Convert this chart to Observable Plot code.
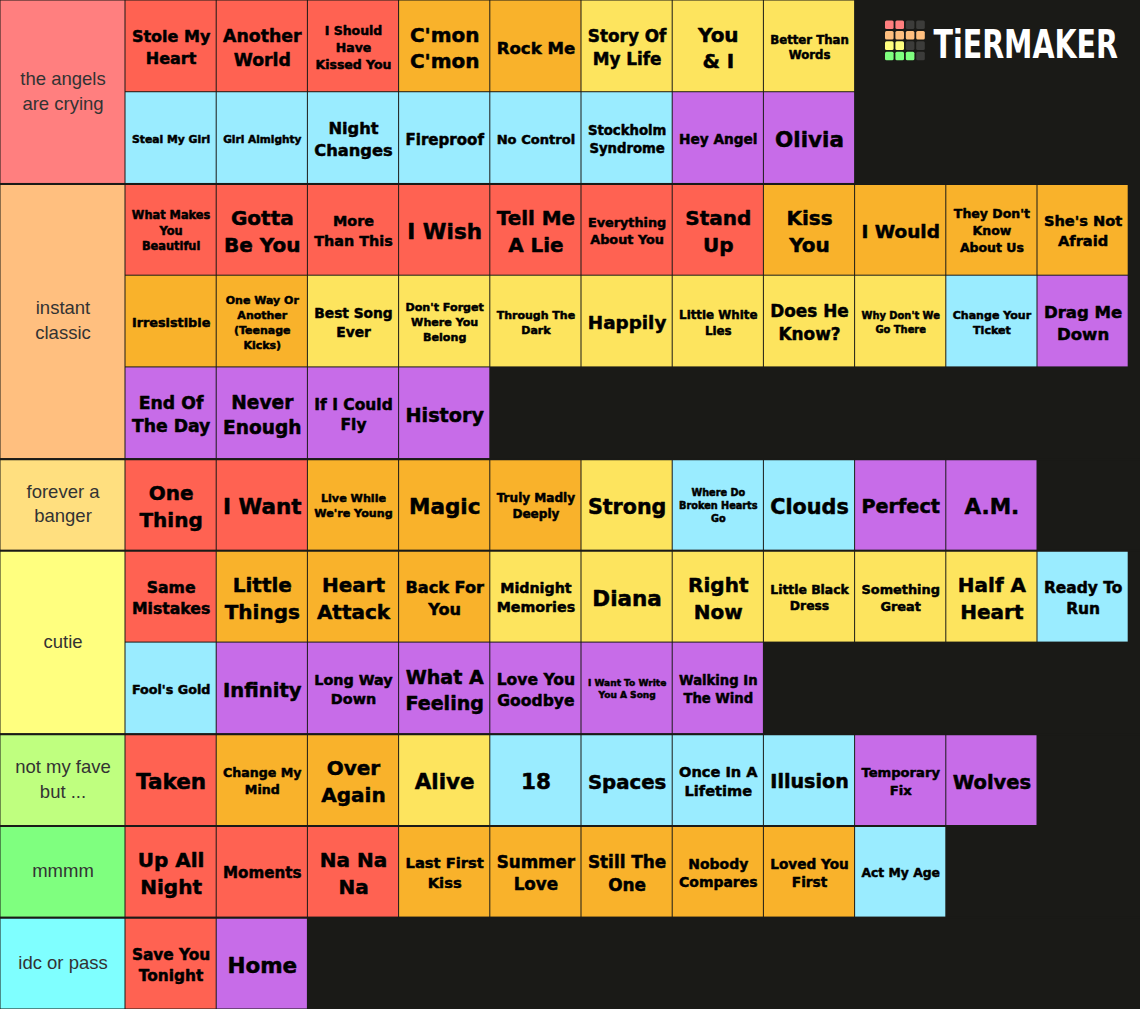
<!DOCTYPE html>
<html>
<head>
<meta charset="utf-8">
<script src="https://cdn.jsdelivr.net/npm/d3@7"></script>
<script src="https://cdn.jsdelivr.net/npm/@observablehq/plot@0.6"></script>
<style>
  html, body { margin: 0; padding: 0; background: #1a1a17; }
  #chart svg { display: block; }
</style>
</head>
<body>
<div id="chart"></div>
<script>
// ---------- DATA ----------
const tierNames = ["the angels are crying", "instant classic", "forever a banger", "cutie", "not my fave but ...", "mmmm", "idc or pass"];
const tierColors = ["#ff7f7f", "#ffbf7f", "#ffdf7f", "#ffff7f", "#bfff7f", "#7fff7f", "#7fffff"];

// album codes -> colour of the song tile
const albumCodes = ["U", "T", "M", "F", "A"];
const albumNames = ["Up All Night", "Take Me Home", "Midnight Memories", "Four", "Made in the A.M."];
const albumColors = ["#ff6252", "#f9b22b", "#fde45e", "#9aecff", "#c76ce8"];

// song tiles per tier: [label as shown (line breaks), album code]
const tier1Songs = [
  ["Stole My\nHeart", "U"], ["Another\nWorld", "U"], ["I Should\nHave\nKissed You", "U"], ["C'mon\nC'mon", "T"],
  ["Rock Me", "T"], ["Story Of\nMy Life", "M"], ["You\n& I", "M"], ["Better Than\nWords", "M"],
  ["Steal My Girl", "F"], ["Girl Almighty", "F"], ["Night\nChanges", "F"], ["Fireproof", "F"],
  ["No Control", "F"], ["Stockholm\nSyndrome", "F"], ["Hey Angel", "A"], ["Olivia", "A"]
];
const tier2Songs = [
  ["What Makes\nYou\nBeautiful", "U"], ["Gotta\nBe You", "U"], ["More\nThan This", "U"], ["I Wish", "U"],
  ["Tell Me\nA Lie", "U"], ["Everything\nAbout You", "U"], ["Stand\nUp", "U"], ["Kiss\nYou", "T"],
  ["I Would", "T"], ["They Don't\nKnow\nAbout Us", "T"], ["She's Not\nAfraid", "T"],
  ["Irresistible", "T"], ["One Way Or\nAnother\n(Teenage\nKicks)", "T"], ["Best Song\nEver", "M"],
  ["Don't Forget\nWhere You\nBelong", "M"], ["Through The\nDark", "M"], ["Happily", "M"], ["Little White\nLies", "M"],
  ["Does He\nKnow?", "M"], ["Why Don't We\nGo There", "M"], ["Change Your\nTicket", "F"], ["Drag Me\nDown", "A"],
  ["End Of\nThe Day", "A"], ["Never\nEnough", "A"], ["If I Could\nFly", "A"], ["History", "A"]
];
const tier3Songs = [
  ["One\nThing", "U"], ["I Want", "U"], ["Live While\nWe're Young", "T"], ["Magic", "T"], ["Truly Madly\nDeeply", "T"],
  ["Strong", "M"], ["Where Do\nBroken Hearts\nGo", "F"], ["Clouds", "F"], ["Perfect", "A"], ["A.M.", "A"]
];
const tier4Songs = [
  ["Same\nMistakes", "U"], ["Little\nThings", "T"], ["Heart\nAttack", "T"], ["Back For\nYou", "T"],
  ["Midnight\nMemories", "M"], ["Diana", "M"], ["Right\nNow", "M"], ["Little Black\nDress", "M"],
  ["Something\nGreat", "M"], ["Half A\nHeart", "M"], ["Ready To\nRun", "F"],
  ["Fool's Gold", "F"], ["Infinity", "A"], ["Long Way\nDown", "A"], ["What A\nFeeling", "A"],
  ["Love You\nGoodbye", "A"], ["I Want To Write\nYou A Song", "A"], ["Walking In\nThe Wind", "A"]
];
const tier5Songs = [
  ["Taken", "U"], ["Change My\nMind", "T"], ["Over\nAgain", "T"], ["Alive", "M"], ["18", "F"],
  ["Spaces", "F"], ["Once In A\nLifetime", "F"], ["Illusion", "F"], ["Temporary\nFix", "A"], ["Wolves", "A"]
];
const tier6Songs = [
  ["Up All\nNight", "U"], ["Moments", "U"], ["Na Na\nNa", "U"], ["Last First\nKiss", "T"], ["Summer\nLove", "T"],
  ["Still The\nOne", "T"], ["Nobody\nCompares", "T"], ["Loved You\nFirst", "T"], ["Act My Age", "F"]
];
const tier7Songs = [["Save You\nTonight", "U"], ["Home", "A"]];

const tierSongs = [tier1Songs, tier2Songs, tier3Songs, tier4Songs, tier5Songs, tier6Songs, tier7Songs];

// logo pattern (4 x 4 squares): r=red, o=orange, y=yellow, g=green, .=dark
const logoPattern = ["rr..", "oooo", "yy..", "ggg."];
const logoColors = { r: "#ff7f7f", o: "#ffbf7f", y: "#ffff7f", g: "#7fff7f", ".": "#3c3c3a" };
const logoText = "TiERMAKER";

// ---------- LAYOUT ----------
const W = 1140, H = 1009;
const COLS = 11, LOGO_COLS = 3;
const LABEL_PX = 125, CELL_PX = 91.2;
const TOTAL_ROWS = 11;
const ITEM_FONT = "'DejaVu Sans', Verdana, sans-serif";
const LABEL_FONT = "'Liberation Sans', Arial, sans-serif";

const ctx = document.createElement("canvas").getContext("2d");
function measure(s, size, weight, family) {
  ctx.font = `${weight} ${size}px ${family}`;
  return ctx.measureText(s).width;
}

const items = [];
const tiers = [];
let rowCursor = 0;
tierSongs.forEach((songs, t) => {
  const start = rowCursor;
  let r = rowCursor, c = 0;
  songs.forEach(([label, code]) => {
    const cap = r === 0 ? COLS - LOGO_COLS : COLS;
    if (c >= cap) { r++; c = 0; }
    const a = albumCodes.indexOf(code);
    items.push({ label, album: albumNames[a], color: albumColors[a], col: c, row: r });
    c++;
  });
  rowCursor = r + 1;
  tiers.push({ name: tierNames[t], color: tierColors[t], y1: start, y2: rowCursor });
});

// fit the label font size to the tile
const FIT_W = 78.5;
const CAPS = [0, 21.5, 20, 12.5, 11];
items.forEach(d => {
  const lines = d.label.split("\n");
  const w = Math.max(...lines.map(l => measure(l, 100, 700, ITEM_FONT))) / 100;
  d.size = Math.min(CAPS[lines.length] || 10, FIT_W / w);
});

// wrap tier names
const LABEL_SIZE = 18.5, LABEL_WRAP = 104;
tiers.forEach(t => {
  const words = t.name.split(" ");
  const lines = [];
  let cur = "";
  words.forEach(w => {
    const test = cur ? cur + " " + w : w;
    if (cur && measure(test, LABEL_SIZE, 400, LABEL_FONT) > LABEL_WRAP) { lines.push(cur); cur = w; }
    else cur = test;
  });
  lines.push(cur);
  t.text = lines.join("\n");
});

// px -> scale units helpers for the logo decoration
const ux = px => (px - LABEL_PX) / CELL_PX;
const uy = px => px / (H / TOTAL_ROWS);
const logoCells = [];
logoPattern.forEach((rowStr, i) => {
  rowStr.split("").forEach((ch, j) => {
    logoCells.push({ i, j, color: logoColors[ch] });
  });
});
const LOGO_X = 885, LOGO_Y = 20.5, LOGO_PITCH = 10.4, LOGO_SQ = 8.6;

const plot = Plot.plot({
  width: W,
  height: H,
  margin: 0,
  x: { type: "linear", domain: [ux(0), ux(W)], range: [0, W], axis: null },
  y: { type: "linear", domain: [0, TOTAL_ROWS], range: [0, H], axis: null },
  style: { background: "#1a1a17" },
  marks: [
    // tier label boxes
    Plot.rect(tiers, {
      x1: () => ux(0), x2: () => 0, y1: "y1", y2: "y2",
      fill: "color", inset: 0.5
    }),
    Plot.text(tiers, {
      x: () => ux(0) / 2, y: d => (d.y1 + d.y2) / 2, text: "text",
      fontSize: LABEL_SIZE, fontFamily: LABEL_FONT, fill: "#333333",
      lineHeight: 1.35, dy: -3
    }),
    // song tiles
    Plot.rect(items, {
      x1: "col", x2: d => d.col + 1, y1: "row", y2: d => d.row + 1,
      fill: "color", inset: 0.5, title: d => `${d.label.replace(/\n/g, " ")} (${d.album})`
    }),
    Plot.text(items, {
      x: d => d.col + 0.5, y: d => d.row + 0.5, text: "label",
      fontSize: "size", fontWeight: 700, fontFamily: ITEM_FONT, fill: "#000",
      stroke: "#000", strokeWidth: 0.5, lineHeight: 1.35
    }),
    // tier separators
    Plot.ruleY(tiers.slice(1), { y: "y1", stroke: "#1a1a17", strokeWidth: 2 }),
    // logo
    Plot.rect(logoCells, {
      x1: d => ux(LOGO_X + d.j * LOGO_PITCH), x2: d => ux(LOGO_X + d.j * LOGO_PITCH + LOGO_SQ),
      y1: d => uy(LOGO_Y + d.i * LOGO_PITCH), y2: d => uy(LOGO_Y + d.i * LOGO_PITCH + LOGO_SQ),
      fill: "color", rx: 1.5
    }),
    Plot.text([logoText], {
      x: () => ux(933), y: () => uy(57.5), text: d => d,
      textAnchor: "start", lineAnchor: "bottom", fontSize: 28.5, fontWeight: 700,
      fontFamily: "'DejaVu Sans', sans-serif", fill: "#ffffff"
    })
  ]
});

document.getElementById("chart").appendChild(plot);
// stretch the logo word vertically (pixel-font look)
plot.querySelectorAll("text").forEach(el => {
  if (el.textContent === logoText) {
    const tr = el.getAttribute("transform") || "";
    const x = +(el.getAttribute("x") || 0), y = +(el.getAttribute("y") || 0);
    el.removeAttribute("x"); el.removeAttribute("y");
    el.setAttribute("transform", `${tr} translate(${x},${y}) scale(1,1.4)`);
  }
});
</script>
</body>
</html>
